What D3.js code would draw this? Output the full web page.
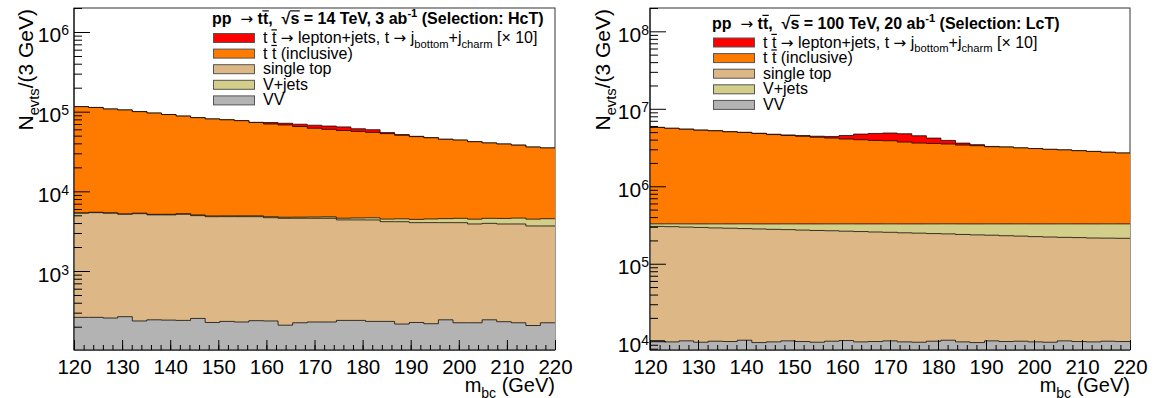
<!DOCTYPE html>
<html>
<head>
<meta charset="utf-8">
<script src="https://cdn.jsdelivr.net/npm/d3@7"></script>
<style>
  body { margin: 0; background: #fff; }
  svg { display: block; font-family: "Liberation Sans", Arial, Helvetica, sans-serif; }
  .keep { white-space: pre; }
</style>
</head>
<body>
<svg id="chart" width="1160" height="398"></svg>
<script>
// binning of m_bc: 33 bins between 120 and 220 GeV
const xRange = [120, 220];
const nBins = 33;
const xMajor = [120, 130, 140, 150, 160, 170, 180, 190, 200, 210, 220];

// ---- 14 TeV, 3 ab-1, HcT selection (events per bin) ----
const vvL = [262,262,257,267,236,244,242,240,254,226,233,229,238,236,209,224,229,229,240,240,233,233,216,226,218,244,224,224,244,231,224,207,224];
const singleTopL = [5050,5140,5050,4880,5010,4820,4820,4910,4700,4580,4580,4580,4570,4430,4380,4370,4360,4360,4140,4140,4140,3930,3940,3820,3830,3800,3820,3670,3720,3660,3670,3470,3450];
const vjetsL = [60,60,70,70,80,80,90,90,100,100,110,110,120,130,140,150,170,190,220,250,280,320,360,400,450,500,540,580,620,680,720,800,860];
const ttbarL = [110200,107500,102600,99800,94700,90900,86900,82800,79000,76100,74100,72100,68100,65200,63300,60300,57200,55200,53400,51900,50300,48500,46000,44100,42500,40500,39400,37500,35900,34700,33400,31500,30500];
const signalL = [0,0,0,0,0,0,0,0,0,0,0,100,500,3000,3500,4500,5600,6000,6400,4500,4400,1600,1000,500,200,0,0,0,0,0,0,0,0];

// ---- 100 TeV, 20 ab-1, LcT selection ----
const vvR = [10200,9800,10100,9700,10000,9900,10300,9600,9800,10100,9900,9700,10000,10200,9800,9900,10100,9800,9700,10000,10300,9800,9600,10100,9900,10000,9800,9700,10100,9900,9800,10000,9900];
const singleTopR = [293000,291000,287000,284500,280000,277500,274000,271500,268000,265500,262000,259000,256500,253000,250500,247000,244500,241000,238500,235000,232500,229000,226000,223500,220000,217500,214000,211500,209000,207500,205000,204000,203000];
const vjetsR = [24000,26500,30000,32500,37000,39500,43000,45500,49000,51500,55000,58000,60500,64000,66500,70000,72500,76000,78500,82000,84500,88000,91000,93500,97000,99500,103000,105500,108000,109500,112000,113000,114000];
const ttbarR = [5420000,5270000,5120000,4970000,4870000,4720000,4620000,4470000,4320000,4200000,4090000,3970000,3860000,3740000,3660000,3580000,3540000,3390000,3280000,3240000,3180000,3070000,3010000,2910000,2880000,2800000,2740000,2670000,2620000,2550000,2490000,2420000,2360000];
const signalR = [10000,12000,15000,18000,22000,26000,30000,38000,50000,70000,90000,130000,210000,460000,730000,900000,1000000,1050000,880000,620000,400000,210000,110000,30000,10000,0,0,0,0,0,0,0,0];

const colors = { signal: "#ff0000", ttbar: "#ff7b00", stop: "#ddb886", vjets: "#d3ce8a", vv: "#b3b3b3" };

// legend labels (segments: plain text, overline, sub, sup, arrow)
const legendLabels = [
  ["t ", ["t", "o"], " ", ["\u2192", "a"], " lepton+jets, t ", ["\u2192", "a"], " j", ["bottom", "sub"], "+j", ["charm", "sub"], " [\u00d7 10]"],
  ["t ", ["t", "o"], " (inclusive)"],
  ["single top"],
  ["V+jets"],
  ["VV"]
];
const legendColors = [colors.signal, colors.ttbar, colors.stop, colors.vjets, colors.vv];

const panels = [
  {
    frame: { x0: 74, x1: 555, y0: 8, y1: 350 },
    yDomain: [102, 2e6],
    layers: [vvL, singleTopL, vjetsL, ttbarL, signalL],
    labelPad: 5, yTitleX: 33,
    header: ["pp  ", ["\u2192", "a"], " t", ["t", "o"], ",  \u221a", ["s", "o"], " = 14 TeV, 3 ab", ["-1", "sup"], " (Selection: HcT)"],
    leg: { x: 212, y: 24 }
  },
  {
    frame: { x0: 650, x1: 1130, y0: 8, y1: 350 },
    yDomain: [7700, 2.0e8],
    layers: [vvR, singleTopR, vjetsR, ttbarR, signalR],
    labelPad: 1, yTitleX: 610,
    header: ["pp  ", ["\u2192", "a"], " t", ["t", "o"], ",  \u221a", ["s", "o"], " = 100 TeV, 20 ab", ["-1", "sup"], " (Selection: LcT)"],
    leg: { x: 712, y: 28.5 }
  }
];
const layerColors = [colors.vv, colors.stop, colors.vjets, colors.ttbar, colors.signal];

const svg = d3.select("#chart");
svg.append("rect").attr("width", 1160).attr("height", 398).attr("fill", "#fff");

function rich(text, segs, size) {
  let shift = 0;
  text.classed("keep", true);
  segs.forEach(s => {
    const [str, kind] = typeof s === "string" ? [s, ""] : s;
    const want = kind === "sub" ? size * 0.3 : kind === "sup" ? -size * 0.42 : 0;
    const t = text.append("tspan").text(str);
    if (want - shift !== 0) t.attr("dy", want - shift);
    shift = want;
    if (kind === "sub" || kind === "sup") t.attr("font-size", size * 0.7);
    if (kind === "o") t.classed("ol", true);
    if (kind === "a") t.attr("font-family", "DejaVu Sans").attr("font-weight", "normal").attr("font-size", size * 0.95);
  });
  // bars drawn by hand over the flagged tspans
  const parent = d3.select(text.node().parentNode);
  text.selectAll("tspan.ol").each(function () {
    const a = this.getStartPositionOfChar(0);
    const b = this.getEndPositionOfChar(this.getNumberOfChars() - 1);
    parent.append("line")
      .attr("x1", a.x - 0.5).attr("x2", b.x + 0.5)
      .attr("y1", a.y - size * 0.82).attr("y2", a.y - size * 0.82)
      .attr("stroke", "#000").attr("stroke-width", 1.2);
  });
}

panels.forEach((p, pi) => {
  const f = p.frame;
  const g = svg.append("g");
  const x = d3.scaleLinear().domain(xRange).range([f.x0, f.x1]);
  const y = d3.scaleLog().domain(p.yDomain).range([f.y1, f.y0]);
  const binW = (xRange[1] - xRange[0]) / nBins;

  // frame (top / right)
  g.append("rect").attr("x", f.x0).attr("y", f.y0)
    .attr("width", f.x1 - f.x0).attr("height", f.y1 - f.y0)
    .attr("fill", "none").attr("stroke", "#333").attr("stroke-width", 1);

  const clipId = "clip" + pi;
  g.append("clipPath").attr("id", clipId).append("rect")
    .attr("x", f.x0).attr("y", f.y0).attr("width", f.x1 - f.x0).attr("height", f.y1 - f.y0);

  // cumulative stack
  let cum = new Array(nBins).fill(0);
  const stacked = p.layers.map((vals, li) => {
    cum = cum.map((c, i) => c + vals[i]);
    return { color: layerColors[li], top: cum.slice() };
  });

  const pts = top => top.map((v, i) => ({ x: xRange[0] + i * binW, v }))
    .concat([{ x: xRange[1], v: top[nBins - 1] }]);
  const area = d3.area().curve(d3.curveStepAfter)
    .x(d => x(d.x)).y0(f.y1).y1(d => y(Math.max(d.v, p.yDomain[0])));
  const line = d3.line().curve(d3.curveStepAfter)
    .x(d => x(d.x)).y(d => y(Math.max(d.v, p.yDomain[0])));

  const hg = g.append("g").attr("clip-path", `url(#${clipId})`);
  stacked.slice().reverse().forEach(s => {
    hg.append("path").attr("d", area(pts(s.top))).attr("fill", s.color);
    hg.append("path").attr("d", line(pts(s.top))).attr("fill", "none")
      .attr("stroke", "#000").attr("stroke-opacity", 0.75).attr("stroke-width", 1);
  });

  // left + bottom axis lines
  g.append("line").attr("x1", f.x0).attr("x2", f.x0).attr("y1", f.y0).attr("y2", f.y1).attr("stroke", "#000");
  g.append("line").attr("x1", f.x0).attr("x2", f.x1).attr("y1", f.y1).attr("y2", f.y1).attr("stroke", "#000");

  // x axis
  const xMinor = d3.range(xRange[0], xRange[1] + 0.1, 2);
  const gxm = g.append("g").attr("transform", `translate(0,${f.y1})`)
    .call(d3.axisBottom(x).tickValues(xMinor).tickSizeInner(-5).tickSizeOuter(0).tickFormat(""));
  gxm.select(".domain").remove();
  const gx = g.append("g").attr("transform", `translate(0,${f.y1})`)
    .call(d3.axisBottom(x).tickValues(xMajor).tickSizeInner(-10).tickSizeOuter(0).tickPadding(9).tickFormat(d3.format("d")));
  gx.select(".domain").remove();
  gx.attr("font-family", null).attr("font-size", 20.5);
  [gxm, gx].forEach(a => a.selectAll("line").attr("stroke", "#000"));
  gx.selectAll("text").attr("fill", "#000");

  // y axis
  const d0 = Math.floor(Math.log10(p.yDomain[0])), d1 = Math.ceil(Math.log10(p.yDomain[1]));
  const yMajor = [], yMinor = [];
  for (let d = d0; d <= d1; d++) {
    for (let k = 1; k <= 9; k++) {
      const v = k * Math.pow(10, d);
      if (v < p.yDomain[0] || v > p.yDomain[1]) continue;
      (k === 1 ? yMajor : yMinor).push(v);
    }
  }
  const gym = g.append("g").attr("transform", `translate(${f.x0},0)`)
    .call(d3.axisLeft(y).tickValues(yMinor).tickSizeInner(-8).tickSizeOuter(0).tickFormat(""));
  gym.select(".domain").remove();
  const gy = g.append("g").attr("transform", `translate(${f.x0},0)`)
    .call(d3.axisLeft(y).tickValues(yMajor).tickSizeInner(-16).tickSizeOuter(0).tickPadding(p.labelPad));
  gy.select(".domain").remove();
  gy.attr("font-family", null).attr("font-size", 21);
  [gym, gy].forEach(a => a.selectAll("line").attr("stroke", "#000"));
  gy.selectAll(".tick text").each(function (d) {
    const t = d3.select(this).text(null).attr("dy", null).attr("y", 10).attr("fill", "#000");
    t.append("tspan").text("10");
    t.append("tspan").text(Math.round(Math.log10(d))).attr("dy", -7).attr("font-size", 14);
  });

  // axis titles
  const xt = g.append("text").attr("x", f.x1).attr("y", 392)
    .attr("text-anchor", "end").attr("font-size", 20).attr("fill", "#000");
  rich(xt, ["m", ["bc", "sub"], " (GeV)"], 20);
  const yt = g.append("text").attr("transform", `translate(${p.yTitleX},${f.y0 + 1}) rotate(-90)`)
    .attr("text-anchor", "end").attr("font-size", 21).attr("fill", "#000");
  rich(yt, ["N", ["evts", "sub"], "/(3 GeV)"], 21);

  // legend
  const lg = g.append("g");
  const ht = lg.append("text").attr("x", p.leg.x).attr("y", p.leg.y)
    .attr("font-size", 16).attr("font-weight", "bold").attr("fill", "#000");
  rich(ht, p.header, 16);
  legendLabels.forEach((lab, i) => {
    const cy = p.leg.y + 14 + i * 15.6;
    lg.append("rect").attr("x", p.leg.x + 1.5).attr("y", cy - 4.5)
      .attr("width", 41).attr("height", 9)
      .attr("fill", legendColors[i]).attr("stroke", "#555").attr("stroke-width", 1);
    const t = lg.append("text").attr("x", p.leg.x + 51).attr("y", cy + 5)
      .attr("font-size", 16).attr("fill", "#000");
    rich(t, lab, 16);
  });
});
</script>
</body>
</html>
